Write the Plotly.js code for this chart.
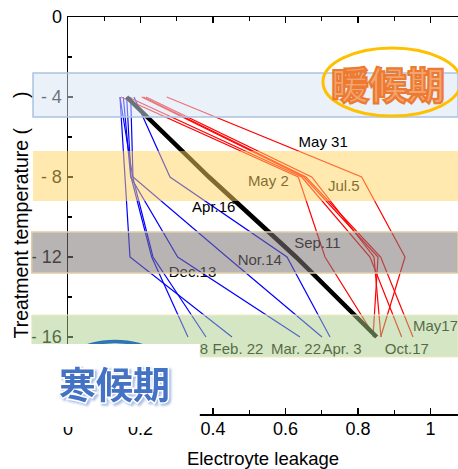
<!DOCTYPE html>
<html><head><meta charset="utf-8">
<script src="https://cdn.plot.ly/plotly-3.0.1.min.js"></script>
<style>
html,body{margin:0;padding:0;background:#fff;overflow:hidden}
#chart{width:458px;height:469px}
.annotation[data-index="0"] text.annotation-text{stroke:#EC7A30;stroke-width:2.2px;}
.annotation[data-index="1"] text.annotation-text{paint-order:stroke;stroke:#ffffff;stroke-width:3px;filter:drop-shadow(2px 2px 1px rgba(68,114,196,0.45));}
</style></head><body><div id="chart"></div>
<script>
// treatment temperatures (y) shared by every series
const temps = [-4, -8, -12, -16];
// electrolyte leakage per sampling date (x), cold season (blue)
const dec13 = [0.1619, 0.1738, 0.2309, 0.3310];
const jan18 = [0.1434, 0.1785, 0.2345, 0.3807];
const feb22 = [0.1434, 0.1572, 0.1710, 0.4524];
const mar22 = [0.1526, 0.1730, 0.3026, 0.6400];
const apr3  = [0.1730, 0.1793, 0.4386, 0.7007];
const nov14 = [0.1821, 0.2814, 0.6041, 0.7228];
// transition (black)
const apr16 = [0.1619, 0.3890, 0.6290, 0.8516];
// warm season (red)
const may2  = [0.1655, 0.6447, 0.8331, 0.9205];
const may17 = [0.2077, 0.6566, 0.8626, 0.9517];
const may31 = [0.2723, 0.8102, 0.9297, 0.8626];
const jul5  = [0.2152, 0.6724, 0.8441, 0.8634];
const sep11 = [0.1462, 0.6353, 0.7090, 0.8469];
const oct17 = [0.2033, 0.6510, 0.8552, 0.8414];

// date labels
const labelText = ["May 31","May 2","Jul.5","Apr.16","Sep.11","Nor.14","Dec.13","May17","Jan. 18","Feb. 22","Mar. 22","Apr. 3","Oct.17"];
const labelX = [0.704, 0.5526, 0.761, 0.402, 0.688, 0.529, 0.3434, 1.0138, 0.3186, 0.469, 0.629, 0.7559, 0.9347];
const labelY = [-6.32, -8.24, -8.53, -9.57, -11.37, -12.23, -12.82, -15.53, -16.68, -16.68, -16.68, -16.68, -16.68];

// axis ticks
const yTickVals = [0, -4, -8, -12, -16];
const yTickText = ["0", "- 4", "- 8", "- 12", "- 16"];
const xTickVals = [0, 0.2, 0.4, 0.6, 0.8, 1];
const xTickText = ["0", "0.2", "0.4", "0.6", "0.8", "1"];

const FONT = "Liberation Sans, Arial, sans-serif";
const blue = {dec13, jan18, feb22, mar22, apr3, nov14};
const red = {may2, may17, may31, jul5, sep11, oct17};

const traces = [];
Object.keys(blue).forEach(k => traces.push({x: blue[k], y: temps, name: k, mode: 'lines', line: {color: '#0000FF', width: 1.2}, hoverinfo: 'skip'}));
Object.keys(red).forEach(k => traces.push({x: red[k], y: temps, name: k, mode: 'lines', line: {color: '#FF0000', width: 1.2}, hoverinfo: 'skip'}));
traces.push({x: apr16, y: temps, name: 'apr16', mode: 'lines', line: {color: '#000000', width: 4.5}, hoverinfo: 'skip'});
traces.push({x: labelX, y: labelY, text: labelText, mode: 'text', textposition: 'middle center', cliponaxis: false,
  textfont: {family: FONT, size: 15, color: '#000'}, hoverinfo: 'skip'});

function band(y0, y1, x0, fill, line) {
  return {type: 'rect', layer: 'above', xref: 'paper', yref: 'y', x0: x0, x1: 1, y0: y0, y1: y1,
    fillcolor: fill, line: line};
}

const layout = {
  width: 458, height: 469,
  margin: {l: 68, r: 0, t: 17, b: 55},
  paper_bgcolor: '#fff', plot_bgcolor: '#fff',
  showlegend: false,
  font: {family: FONT, color: '#000'},
  xaxis: {
    range: [0, 1.0759], tickmode: 'array', tickvals: xTickVals, ticktext: xTickText,
    ticks: 'inside', ticklen: 6, tickwidth: 1.5, tickcolor: '#000',
    minor: {tickmode: 'array', tickvals: [0.1, 0.3, 0.5, 0.7, 0.9], ticks: 'inside', ticklen: 4, tickwidth: 1.2, tickcolor: '#000'},
    showline: true, linewidth: 1.5, linecolor: '#000', mirror: 'ticks',
    showgrid: false, zeroline: false, ticklabelstandoff: -2,
    tickfont: {size: 18, family: FONT, color: '#000'},
    title: {text: 'Electroyte leakage', font: {size: 18.5, family: FONT, color: '#000'}, standoff: 17}
  },
  yaxis: {
    range: [-19.85, 0], tickmode: 'array', tickvals: yTickVals, ticktext: yTickText,
    ticks: 'inside', ticklen: 5, tickwidth: 1.5, tickcolor: '#000',
    minor: {tickmode: 'array', tickvals: [-2, -6, -10, -14, -18], ticks: 'inside', ticklen: 4, tickwidth: 1.2, tickcolor: '#000'},
    showline: true, linewidth: 1.5, linecolor: '#000', mirror: false,
    showgrid: false, zeroline: false, ticklabelstandoff: 1,
    tickfont: {size: 18, family: FONT, color: '#000'}
  },
  shapes: [
    band(-2.8, -5.0, -0.0897, 'rgba(213,227,243,0.5)', {color: 'rgba(170,195,225,1)', width: 1.5}),
    band(-6.7, -9.2, -0.0897, 'rgba(255,211,95,0.5)', {width: 0}),
    band(-10.75, -12.8, -0.093, 'rgba(126,119,119,0.55)', {color: 'rgba(222,205,165,1)', width: 1.5}),
    band(-14.9, -17.0, -0.093, 'rgba(169,205,137,0.5)', {color: 'rgba(242,235,192,1)', width: 1}),
    {type: 'circle', layer: 'above', xref: 'x', yref: 'y', x0: 0.7034, x1: 1.0841, y0: -1.55, y1: -4.95,
      fillcolor: 'rgba(0,0,0,0)', line: {color: '#FFC000', width: 3}},
    {type: 'circle', layer: 'above', xref: 'paper', yref: 'paper', x0: -0.0359, x1: 0.2769, y0: 0.1826, y1: -0.0252,
      fillcolor: 'rgba(0,0,0,0)', line: {color: '#2E75B6', width: 3.5}},
    {type: 'rect', layer: 'above', xref: 'paper', yref: 'paper', x0: -0.095, x1: 0.338, y0: 0.1763, y1: -0.0327,
      fillcolor: '#ffffff', line: {width: 0}}
  ],
  annotations: [
    {text: '暖候期', xref: 'paper', yref: 'paper', x: 0.8205, y: 0.8338, xanchor: 'center', yanchor: 'middle', showarrow: false,
      font: {family: 'Noto Sans CJK JP', size: 38, color: '#F5A470', weight: 700}},
    {text: '寒候期', xref: 'paper', yref: 'paper', x: 0.118, y: 0.078, xanchor: 'center', yanchor: 'middle', showarrow: false,
      font: {family: 'Noto Sans CJK JP', size: 37, color: '#4472C4', weight: 700}},
    {text: 'Treatment temperature (\u2800\u2800)', xref: 'paper', yref: 'paper', x: -0.123, y: 0.5, xanchor: 'center', yanchor: 'middle',
      textangle: -90, showarrow: false, font: {family: FONT, size: 19.5, color: '#000'}}
  ]
};

Plotly.newPlot('chart', traces, layout, {staticPlot: true, displayModeBar: false});
</script></body></html>
